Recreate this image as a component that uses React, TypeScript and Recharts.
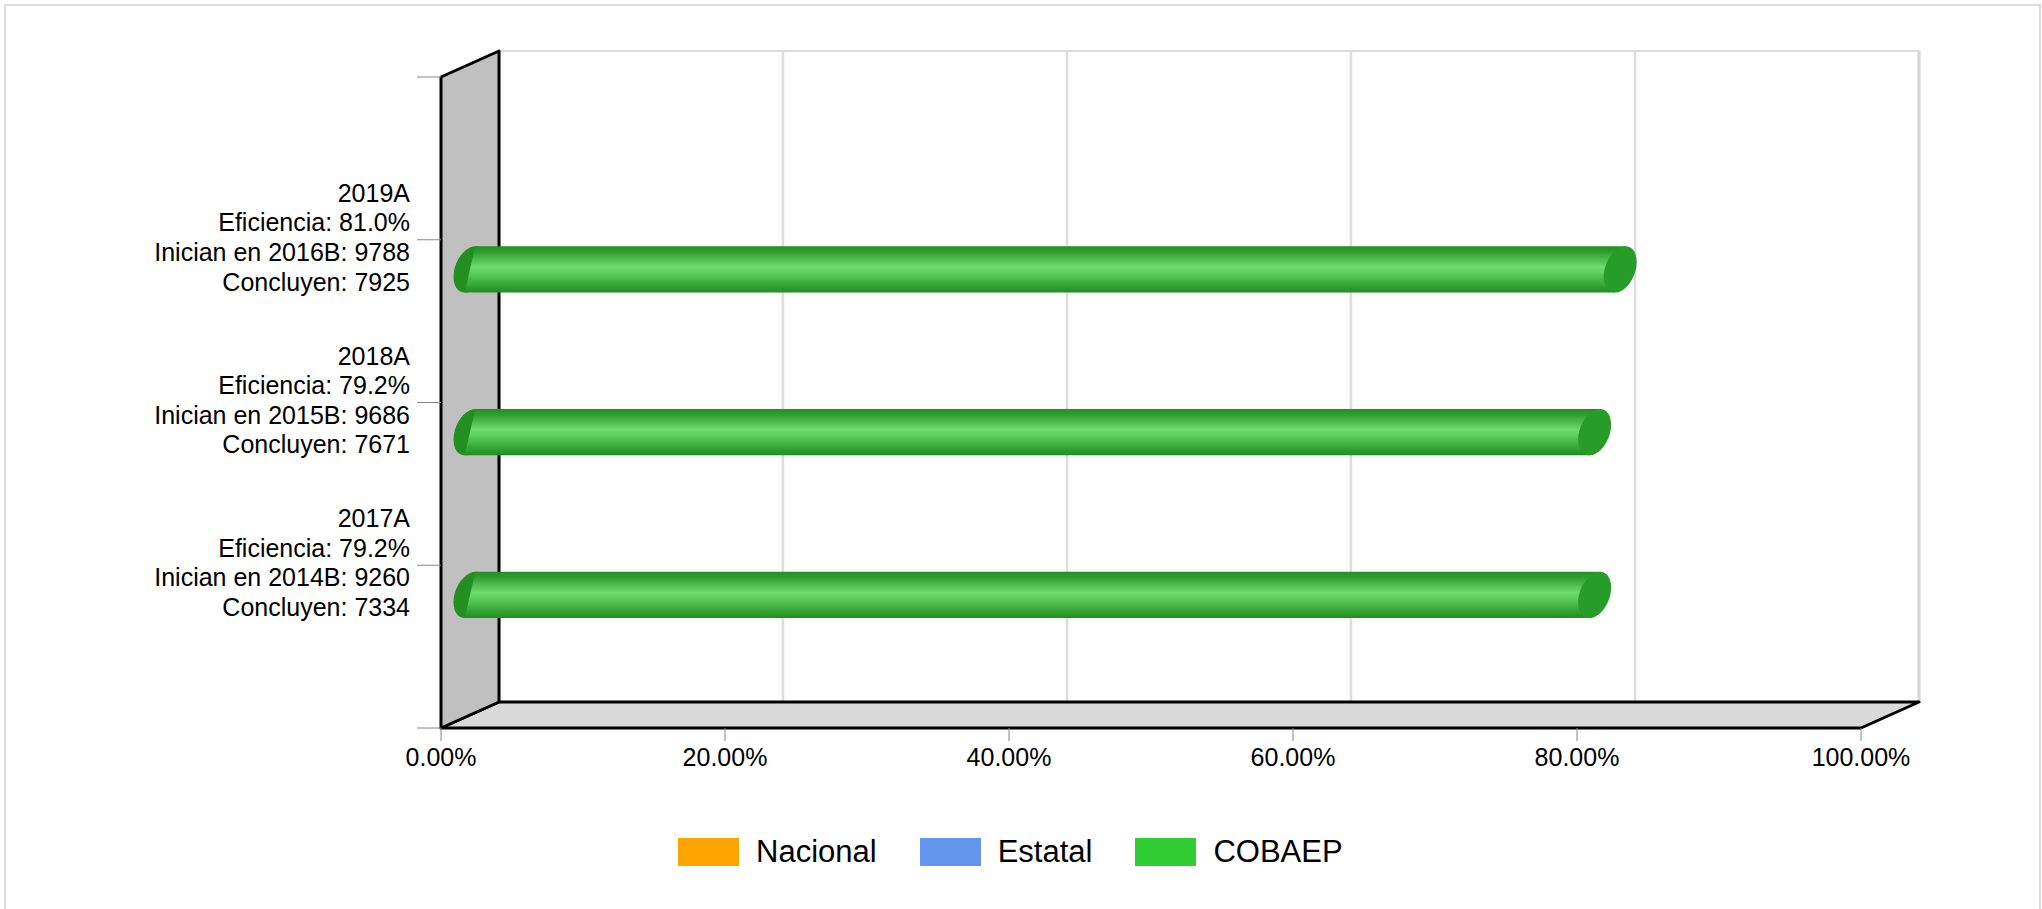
import React from "react";
import { Bar, BarChart, CartesianGrid, Customized, Legend, XAxis, YAxis } from "recharts";

const CATEGORIES = ["2019A", "2018A", "2017A"];
const EFICIENCIA = [81.0, 79.2, 79.2];
const INICIAN_EN = ["2016B", "2015B", "2014B"];
const INICIAN = [9788, 9686, 9260];
const CONCLUYEN = [7925, 7671, 7334];

const NACIONAL: (number | null)[] = [null, null, null];
const ESTATAL: (number | null)[] = [null, null, null];
const COBAEP: (number | null)[] = [81.0, 79.2, 79.2];

const X_TICKS = [0, 20, 40, 60, 80, 100];

const SERIES = [
  { key: "nacional", label: "Nacional", color: "#ffa500" },
  { key: "estatal", label: "Estatal", color: "#6495ed" },
  { key: "cobaep", label: "COBAEP", color: "#32cd32" },
];

const data = CATEGORIES.map((cat, i) => ({
  cat,
  nacional: NACIONAL[i],
  estatal: ESTATAL[i],
  cobaep: COBAEP[i],
}));

const W = 2042;
const H = 909;
const FONT = '"Liberation Sans", Arial, sans-serif';
const Y_AXIS_W = 430;
const X_AXIS_H = 60;
const MARGIN = { top: 77, right: 181, bottom: 121, left: 11 };
// front plane of the pseudo-3d box
const LEFT = MARGIN.left + Y_AXIS_W;
const TOP = MARGIN.top;
const PLOT_W = W - LEFT - MARGIN.right;
const PLOT_H = H - TOP - MARGIN.bottom - X_AXIS_H;
const BOTTOM = TOP + PLOT_H;
const DEPTH = { x: 58, y: 26 };
// cylinder end cap: half depth vector (a, -b), half height d
const CAP = { a: 16.5, b: 7.4, d: 22 };

// the axis scale object changed shape between recharts versions
function scaleOf(axis: any, v: number, offset: any) {
  const s = axis && axis.scale;
  let px: any;
  if (typeof s === "function") px = s(v);
  else if (s && typeof s.map === "function") px = s.map(v);
  if (typeof px !== "number" || !isFinite(px)) px = offset.left + (v / 100) * offset.width;
  return px;
}

function Cylinder(props: any) {
  const { x, y, width, height, value, index } = props;
  if (value == null || !(width > 0)) return <g />;
  const cy = y + height / 2 - DEPTH.y / 2;
  const x0 = x + DEPTH.x / 2;
  const x1 = x + width + DEPTH.x / 2;
  const r = Math.sqrt(CAP.b * CAP.b + CAP.d * CAP.d);
  const t = (CAP.a * CAP.b) / r;
  const id = `cyl-${index}`;
  const m = (cx: number) => `matrix(${CAP.a} ${-CAP.b} 0 ${CAP.d} ${cx} ${cy})`;
  return (
    <g>
      <defs>
        <linearGradient id={id} gradientUnits="userSpaceOnUse" x1={0} y1={cy - r} x2={0} y2={cy + r}>
          <stop offset="0%" stopColor="#238f23" />
          <stop offset="12%" stopColor="#2e9c2e" />
          <stop offset="45%" stopColor="#6ddb6d" />
          <stop offset="55%" stopColor="#62d262" />
          <stop offset="88%" stopColor="#2f9f2f" />
          <stop offset="100%" stopColor="#228d22" />
        </linearGradient>
      </defs>
      <ellipse cx={0} cy={0} rx={1} ry={1} transform={m(x0)} fill={`url(#${id})`} />
      <polygon
        points={`${x0 + t},${cy - r} ${x1 + t},${cy - r} ${x1 - t},${cy + r} ${x0 - t},${cy + r}`}
        fill={`url(#${id})`}
      />
      <ellipse cx={0} cy={0} rx={1} ry={1} transform={m(x1)} fill="#289c28" />
    </g>
  );
}

function CategoryTick(props: any) {
  const { x, y, payload } = props;
  const i = CATEGORIES.indexOf(payload.value);
  if (i < 0) return <g />;
  const lines = [
    CATEGORIES[i],
    `Eficiencia: ${EFICIENCIA[i].toFixed(1)}%`,
    `Inician en ${INICIAN_EN[i]}: ${INICIAN[i]}`,
    `Concluyen: ${CONCLUYEN[i]}`,
  ];
  return (
    <g>
      {lines.map((s, k) => (
        <text key={k} x={x} y={y - 38 + k * 29.6} textAnchor="end" fontSize={25} fontFamily={FONT} fill="#000">
          {s}
        </text>
      ))}
    </g>
  );
}

function Box3D() {
  const bx = LEFT + DEPTH.x;
  const by = TOP - DEPTH.y;
  const right = LEFT + PLOT_W;
  return (
    <g>
      <rect x={5} y={5} width={2035} height={930} fill="none" stroke="#dcdcdc" strokeWidth={2} />
      <line x1={bx} y1={by} x2={right + DEPTH.x} y2={by} stroke="#dcdcdc" strokeWidth={2} />
      <line x1={right + DEPTH.x} y1={by} x2={right + DEPTH.x} y2={BOTTOM - DEPTH.y} stroke="#d6d6d6" strokeWidth={3} />
      <polygon
        points={`${LEFT},${BOTTOM} ${right},${BOTTOM} ${right + DEPTH.x},${BOTTOM - DEPTH.y} ${bx},${BOTTOM - DEPTH.y}`}
        fill="#d9d9d9"
        stroke="#000"
        strokeWidth={3}
        strokeLinejoin="round"
      />
      <polygon
        points={`${LEFT},${TOP} ${bx},${by} ${bx},${BOTTOM - DEPTH.y} ${LEFT},${BOTTOM}`}
        fill="#c0c0c0"
        stroke="#000"
        strokeWidth={3}
        strokeLinejoin="round"
      />
      <line x1={LEFT - 24} y1={TOP} x2={LEFT} y2={TOP} stroke="#888" strokeWidth={1} />
      <line x1={LEFT - 24} y1={BOTTOM} x2={LEFT} y2={BOTTOM} stroke="#888" strokeWidth={1} />
    </g>
  );
}

// legend keeps the series order (recharts reverses it in vertical layout)
function LegendBox() {
  return (
    <div style={{ display: "flex", alignItems: "center", height: 40, fontFamily: FONT, fontSize: 31, color: "#000" }}>
      {SERIES.map((s) => (
        <div key={s.key} style={{ display: "flex", alignItems: "center", marginRight: 43, whiteSpace: "nowrap" }}>
          <span style={{ display: "inline-block", width: 61, height: 28, background: s.color, marginRight: 17 }} />
          <span>{s.label}</span>
        </div>
      ))}
    </div>
  );
}

export default function App() {
  return (
    <div style={{ position: "absolute", left: 0, top: 0, width: W, height: H, background: "#fff" }}>
      <BarChart
        width={W}
        height={H}
        data={data}
        layout="vertical"
        margin={MARGIN}
        barSize={46}
        barGap={-3}
      >
        <CartesianGrid
          horizontal={false}
          stroke="#dcdcdc"
          strokeWidth={2.5}
          y={TOP - DEPTH.y}
          height={PLOT_H}
          verticalCoordinatesGenerator={({ xAxis, offset }: any) =>
            X_TICKS.map((v) => scaleOf(xAxis, v, offset) + DEPTH.x)
          }
        />
        <Customized component={Box3D} />
        <XAxis
          type="number"
          domain={[0, 100]}
          ticks={X_TICKS}
          interval={0}
          height={X_AXIS_H}
          axisLine={false}
          tickLine={{ stroke: "#888" }}
          tickSize={13}
          tickMargin={7}
          tick={{ fill: "#000", fontSize: 25, fontFamily: FONT }}
          tickFormatter={(v: number) => `${v.toFixed(2)}%`}
        />
        <YAxis
          type="category"
          dataKey="cat"
          width={Y_AXIS_W}
          padding={{ top: PLOT_H / 8, bottom: PLOT_H / 8 }}
          axisLine={false}
          tickLine={{ stroke: "#888" }}
          tickSize={24}
          tickMargin={7}
          interval={0}
          tick={<CategoryTick />}
        />
        <Legend
          layout="horizontal"
          verticalAlign="middle"
          align="center"
          wrapperStyle={{ top: 832, left: 678, width: "auto" }}
          content={<LegendBox />}
        />
        {SERIES.map((s) => (
          <Bar
            key={s.key}
            dataKey={s.key}
            name={s.label}
            fill={s.color}
            shape={<Cylinder />}
            isAnimationActive={false}
          />
        ))}
      </BarChart>
    </div>
  );
}
